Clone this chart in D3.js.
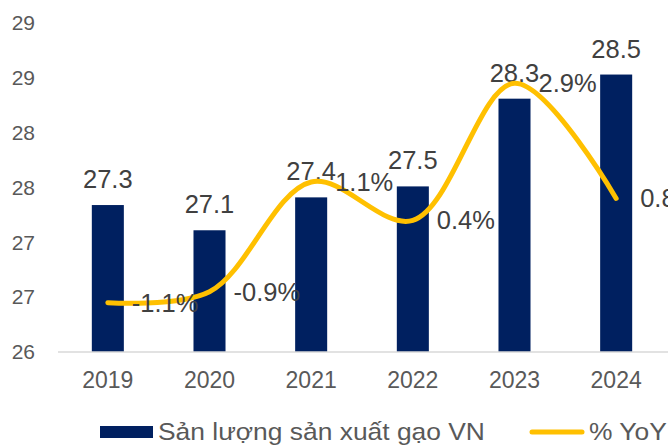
<!DOCTYPE html>
<html>
<head>
<meta charset="utf-8">
<script src="https://cdn.jsdelivr.net/npm/d3@7"></script>
<style>
  body { margin: 0; background: #fff; }
  svg { font-family: "Liberation Sans", Arial, sans-serif; }
</style>
</head>
<body>
<div id="graph"></div>
<script>
// data
var years = ["2019", "2020", "2021", "2022", "2023", "2024"];
var output = [27.34, 27.11, 27.41, 27.51, 28.31, 28.53];   // Sản lượng (triệu tấn)
var yoy = [-0.011, -0.009, 0.011, 0.004, 0.029, 0.008];     // % YoY
var yoyLabels = ["-1.1%", "-0.9%", "1.1%", "0.4%", "2.9%", "0.8%"];
var yTicks = [26, 26.5, 27, 27.5, 28, 28.5, 29];

var svgWidth = 668, svgHeight = 445;

var svg = d3.select("#graph").append("svg")
	.attr("width", svgWidth)
	.attr("height", svgHeight);

var xScale = d3.scaleBand().domain(years).range([57, 667]).paddingInner(0.685).paddingOuter(0.3425);
var yScale = d3.scaleLinear().domain([26, 29]).range([352, 23]);
var y2Scale = d3.scaleLinear().domain([-0.02, 0.04]).range([352, 23]); // hidden secondary axis

// y axis labels only (no line, no ticks)
svg.append("g")
	.attr("transform", "translate(35,0)")
	.call(d3.axisLeft(yScale).tickValues(yTicks).tickFormat(d3.format(".0f")).tickSize(0).tickPadding(0))
	.call(function(g) { g.select(".domain").remove(); })
	.selectAll("text")
	.style("font-size", "21px")
	.style("fill", "#595959")
	.style("font-family", "Liberation Sans, Arial, sans-serif");

// bars
svg.selectAll(".bar").data(output).enter().append("rect")
	.attr("class", "bar")
	.attr("x", function(d, i) { return xScale(years[i]); })
	.attr("y", function(d) { return yScale(d); })
	.attr("width", xScale.bandwidth())
	.attr("height", function(d) { return yScale(26) - yScale(d); })
	.style("fill", "#002060");

// x axis baseline + labels
svg.append("line")
	.attr("x1", 58).attr("x2", 668)
	.attr("y1", yScale(26)).attr("y2", yScale(26))
	.style("stroke", "#d9d9d9").style("stroke-width", 1.5);

svg.selectAll(".xlab").data(years).enter().append("text")
	.attr("class", "xlab")
	.attr("x", function(d) { return xScale(d) + xScale.bandwidth() / 2; })
	.attr("y", 388)
	.attr("text-anchor", "middle")
	.style("font-size", "23px")
	.style("fill", "#595959")
	.text(function(d) { return d; });

// bar value labels
svg.selectAll(".blab").data(output).enter().append("text")
	.attr("class", "blab")
	.attr("x", function(d, i) { return xScale(years[i]) + xScale.bandwidth() / 2; })
	.attr("y", function(d) { return yScale(d) - 17; })
	.attr("text-anchor", "middle")
	.style("font-size", "25.5px")
	.style("fill", "#404040")
	.text(function(d) { return d.toFixed(1); });

// YoY line (smoothed)
var lineGenerator = d3.line()
	.x(function(d, i) { return xScale(years[i]) + xScale.bandwidth() / 2; })
	.y(function(d) { return y2Scale(d); })
	.curve(d3.curveCatmullRom.alpha(0.5));

svg.append("path")
	.attr("d", lineGenerator(yoy))
	.style("fill", "none")
	.style("stroke", "#ffc000")
	.style("stroke-width", 5)
	.style("stroke-linecap", "round")
	.style("stroke-linejoin", "round");

// YoY labels, right of the points
svg.selectAll(".llab").data(yoy).enter().append("text")
	.attr("class", "llab")
	.attr("x", function(d, i) { return xScale(years[i]) + xScale.bandwidth() / 2 + 24; })
	.attr("y", function(d) { return y2Scale(d); })
	.attr("dominant-baseline", "central")
	.style("font-size", "25.5px")
	.style("fill", "#404040")
	.text(function(d, i) { return yoyLabels[i]; });

// legend (text a bit wider than tall in the original)
var legend = svg.append("g");
legend.append("rect")
	.attr("x", 100).attr("y", 426).attr("width", 53).attr("height", 12)
	.style("fill", "#002060");
legend.append("text")
	.attr("transform", "translate(158,440) scale(1.1,1)")
	.style("font-size", "24px")
	.style("fill", "#595959")
	.text("Sản lượng sản xuất gạo VN");
legend.append("line")
	.attr("x1", 532).attr("x2", 582).attr("y1", 432).attr("y2", 432)
	.style("stroke", "#ffc000").style("stroke-width", 5).style("stroke-linecap", "round");
legend.append("text")
	.attr("transform", "translate(589,440) scale(1.1,1)")
	.style("font-size", "24px")
	.style("fill", "#595959")
	.text("% YoY");
</script>
</body>
</html>
